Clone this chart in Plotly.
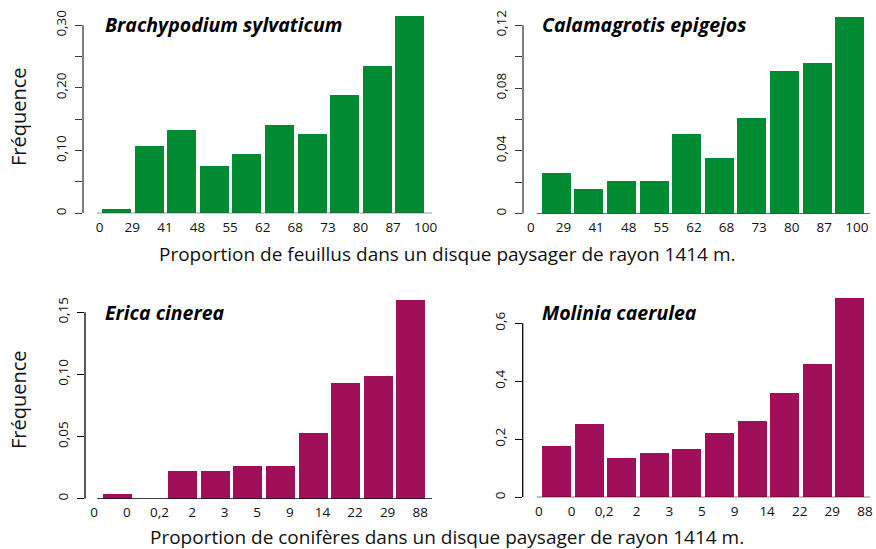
import plotly.graph_objects as go

W, H = 876, 549

# ---------------- data ----------------
feuillus_labels = ["0", "29", "41", "48", "55", "62", "68", "73", "80", "87", "100"]
coniferes_labels = ["0", "0", "0,2", "2", "3", "5", "9", "14", "22", "29", "88"]

brachypodium = [0.007, 0.107, 0.133, 0.0755, 0.095, 0.141, 0.127, 0.189, 0.235, 0.315]
calamagrotis = [0.026, 0.0157, 0.0208, 0.0208, 0.0508, 0.0355, 0.061, 0.091, 0.096, 0.1255]
erica = [0.004, 0.0, 0.0223, 0.0223, 0.0263, 0.0263, 0.0529, 0.0931, 0.0988, 0.160]
molinia = [0.177, 0.253, 0.136, 0.153, 0.167, 0.222, 0.263, 0.36, 0.46, 0.687]

ticks_brachy = [0, 0.05, 0.10, 0.15, 0.20, 0.25, 0.30]
text_brachy = ["0", "", "0,10", "", "0,20", "", "0,30"]
ticks_calam = [0, 0.02, 0.04, 0.06, 0.08, 0.10, 0.12]
text_calam = ["0", "", "0,04", "", "0,08", "", "0,12"]
ticks_erica = [0, 0.05, 0.10, 0.15]
text_erica = ["0", "0,05", "0,10", "0,15"]
ticks_molinia = [0, 0.2, 0.4, 0.6]
text_molinia = ["0", "0,2", "0,4", "0,6"]

GREEN = "#008A32"
PURPLE = "#A0105A"
FONT = "Open Sans"

# ---------------- layout geometry (pixels) ----------------
panels = [
    dict(vals=brachypodium, labels=feuillus_labels, tv=ticks_brachy, tt=text_brachy,
         title="Brachypodium sylvaticum", color=GREEN, axcol="#3a3a3a",
         yx=83, y0=213.3, ytop=25.3, c0=116.5, xl0=97, xr=432, loff=-0.5, ty=24.5, tx=103),
    dict(vals=calamagrotis, labels=feuillus_labels, tv=ticks_calam, tt=text_calam,
         title="Calamagrotis epigejos", color=GREEN, axcol="#3a3a3a",
         yx=523, y0=213.7, ytop=25.3, c0=556.2, xl0=536.7, xr=870, loff=-9, ty=24.5, tx=540),
    dict(vals=erica, labels=coniferes_labels, tv=ticks_erica, tt=text_erica,
         title="Erica cinerea", color=PURPLE, axcol="#000000",
         yx=85, y0=498.7, ytop=312.3, c0=117.5, xl0=97, xr=432, loff=-7, ty=312, tx=103),
    dict(vals=molinia, labels=coniferes_labels, tv=ticks_molinia, tt=text_molinia,
         title="Molinia caerulea", color=PURPLE, axcol="#000000",
         yx=522.7, y0=497.3, ytop=323.3, c0=556.2, xl0=536.7, xr=870, loff=-1, ty=312, tx=539.5),
]
PITCH = 32.6
BARW = 29.0

fig = go.Figure()
shapes = []
annotations = []

for i, p in enumerate(panels):
    n = i + 1
    xa = "x" if n == 1 else f"x{n}"
    ya = "y" if n == 1 else f"y{n}"
    top_px = 8 if n <= 2 else 292
    xmin = (p["yx"] - p["c0"]) / PITCH
    xmax = (p["xr"] - p["c0"]) / PITCH
    tmax = p["tv"][-1]
    ymax = tmax * (p["y0"] - top_px) / (p["y0"] - p["ytop"])
    xs = list(range(len(p["vals"])))
    fig.add_trace(go.Bar(x=xs, y=p["vals"], marker=dict(color=p["color"], line=dict(width=0)),
                         width=BARW / PITCH, xaxis=xa, yaxis=ya, showlegend=False,
                         hoverinfo="y"))
    edges = [k - 0.5 + p["loff"] / PITCH for k in range(len(p["labels"]))]
    xkey = "xaxis" if n == 1 else f"xaxis{n}"
    ykey = "yaxis" if n == 1 else f"yaxis{n}"
    fig.layout[xkey] = dict(
        domain=[p["yx"] / W, p["xr"] / W], range=[xmin, xmax], anchor=ya,
        showgrid=False, zeroline=False, showline=False, ticks="", automargin=False,
        tickvals=edges, ticktext=p["labels"], tickangle=0,
        tickfont=dict(family=FONT, size=13.5, color="#111"), ticklabelstandoff=4,
    )
    fig.layout[ykey] = dict(
        domain=[1 - p["y0"] / H, 1 - top_px / H], range=[0, ymax], anchor=xa,
        showgrid=False, zeroline=False, showline=False, automargin=False,
        ticks="outside", ticklen=7, tickwidth=1.3, tickcolor=p["axcol"],
        tickvals=p["tv"], ticktext=p["tt"], tickangle=-90,
        tickfont=dict(family=FONT, size=13.5, color="#111"), ticklabelstandoff=4,
    )
    # y axis line (from 0 to the top tick only)
    shapes.append(dict(type="line", xref=f"{xa} domain", yref=ya, x0=0, x1=0,
                       y0=0, y1=tmax, line=dict(color=p["axcol"], width=1.3)))
    # x baseline
    shapes.append(dict(type="line", xref=xa, yref=ya,
                       x0=(p["xl0"] - p["c0"]) / PITCH, x1=xmax, y0=0, y1=0,
                       line=dict(color=p["axcol"], width=1.3)))
    annotations.append(dict(text=f"<b><i>{p['title']}</i></b>", xref="paper", yref="paper",
                            x=p["tx"] / W, y=1 - p["ty"] / H, xanchor="left", yanchor="middle",
                            showarrow=False, font=dict(family=FONT, size=19.5, color="#000")))

annotations += [
    dict(text="Proportion de feuillus dans un disque paysager de rayon 1414 m.",
         xref="paper", yref="paper", x=447 / W, y=1 - 254 / H, xanchor="center", yanchor="middle",
         showarrow=False, font=dict(family=FONT, size=19, color="#111")),
    dict(text="Proportion de conifères dans un disque paysager de rayon 1414 m.",
         xref="paper", yref="paper", x=447 / W, y=1 - 537 / H, xanchor="center", yanchor="middle",
         showarrow=False, font=dict(family=FONT, size=19, color="#111")),
    dict(text="Fréquence", xref="paper", yref="paper", x=18 / W, y=1 - 117 / H,
         xanchor="center", yanchor="middle", textangle=-90,
         showarrow=False, font=dict(family=FONT, size=20, color="#111")),
    dict(text="Fréquence", xref="paper", yref="paper", x=18 / W, y=1 - 400 / H,
         xanchor="center", yanchor="middle", textangle=-90,
         showarrow=False, font=dict(family=FONT, size=20, color="#111")),
]

fig.update_layout(width=W, height=H, margin=dict(l=0, r=0, t=0, b=0),
                  paper_bgcolor="white", plot_bgcolor="white", bargap=0,
                  shapes=shapes, annotations=annotations)

fig.write_html("out.html", config={"displayModeBar": False},
               post_script="document.body.style.margin='0';")
